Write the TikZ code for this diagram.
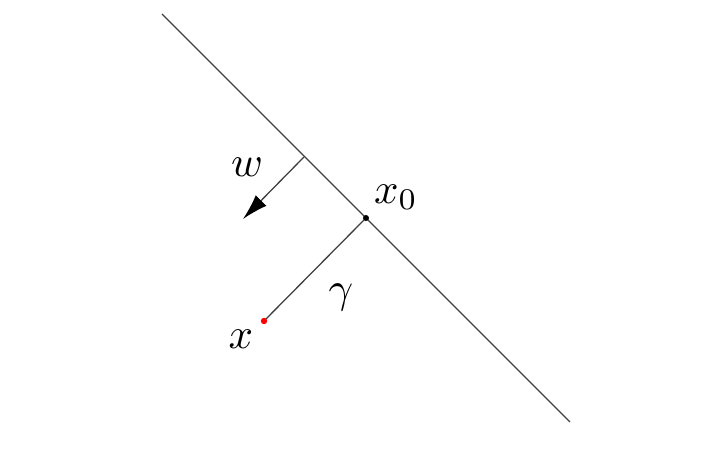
\documentclass[tikz,border=0pt]{standalone}
\usetikzlibrary{arrows.meta}
\begin{document}
\begin{tikzpicture}[x=0.233pt,y=-0.233pt,
  thinline/.style={line width=0.3pt, black!75},
  lbl/.style={inner sep=0pt}]
\useasboundingbox (0,0) rectangle (702,466);
\coordinate (a) at (162,14);
\coordinate (b) at (570,422);
\coordinate (wf) at (304,157);
\coordinate (wt) at (243,219);
\coordinate (xz) at (366,218);
\coordinate (xp) at (264,321);
\draw[thinline] (a) -- (b);
\draw[thinline,-{Latex[length=6pt,width=3.5pt,black]}] (wf) -- (wt);
\draw[thinline] (xp) -- (xz);
\fill[black] (xz) circle (3);
\fill[red] (xp) circle (3.2);
\node[lbl] (wl) at (247,167) {$w$};
\node[lbl] (x0l) at (396,197) {$x_0$};
\node[lbl] (gl) at (341,297) {$\gamma$};
\node[lbl] (xl) at (241,339) {$x$};
\end{tikzpicture}
\end{document}
